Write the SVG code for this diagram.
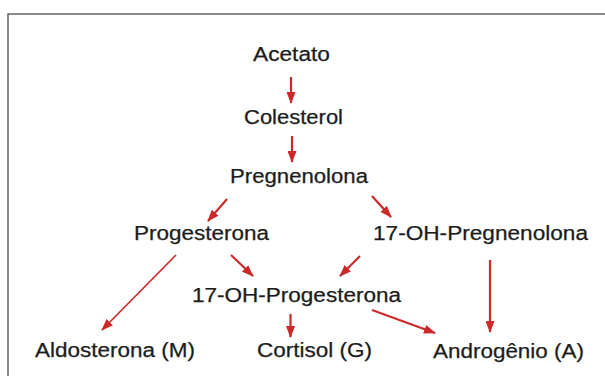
<svg xmlns="http://www.w3.org/2000/svg" width="605" height="376" viewBox="0 0 605 376">
<style>
.t{font-family:"Liberation Sans",Arial,sans-serif;font-size:20px;fill:#1c1c1c;stroke:#1c1c1c;stroke-width:0.25;}
.a{stroke:#cc2a2a;stroke-width:2.2;fill:none;marker-end:url(#h);}
.thin{stroke-width:1.7;}
.frame{stroke:#666;stroke-width:1.5;fill:none;}
</style>
<defs>
<marker id="h" viewBox="0 0 12 9" markerWidth="12" markerHeight="9" markerUnits="userSpaceOnUse" refX="11" refY="4.5" orient="auto">
<path d="M0,0 L12,4.5 L0,9 Z" fill="#cc2a2a"/>
</marker>
</defs>
<rect width="605" height="376" fill="#fff"/>
<path class="frame" d="M8,376 V14 H605"/>
<g id="acetato"><text class="t" x="253" y="61" textLength="77" lengthAdjust="spacingAndGlyphs">Acetato</text></g>
<g id="colesterol"><text class="t" x="244" y="124" textLength="99" lengthAdjust="spacingAndGlyphs">Colesterol</text></g>
<g id="pregnenolona"><text class="t" x="230" y="183" textLength="138" lengthAdjust="spacingAndGlyphs">Pregnenolona</text></g>
<g id="progesterona"><text class="t" x="134" y="240" textLength="135" lengthAdjust="spacingAndGlyphs">Progesterona</text></g>
<g id="oh-pregnenolona"><text class="t" x="373" y="240" textLength="215" lengthAdjust="spacingAndGlyphs">17-OH-Pregnenolona</text></g>
<g id="oh-progesterona"><text class="t" x="192" y="302" textLength="209" lengthAdjust="spacingAndGlyphs">17-OH-Progesterona</text></g>
<g id="aldosterona"><text class="t" x="35" y="357" textLength="160" lengthAdjust="spacingAndGlyphs">Aldosterona (M)</text></g>
<g id="cortisol"><text class="t" x="257" y="357" textLength="115" lengthAdjust="spacingAndGlyphs">Cortisol (G)</text></g>
<g id="androgenio"><text class="t" x="433" y="358" textLength="151" lengthAdjust="spacingAndGlyphs">Androgênio (A)</text></g>
<g id="connectors">
<line class="a" x1="291" y1="77" x2="291" y2="103"/>
<line class="a" x1="292" y1="136" x2="292" y2="162"/>
<line class="a" x1="227" y1="199" x2="208" y2="221"/>
<line class="a" x1="372" y1="196" x2="391" y2="217"/>
<line class="a thin" x1="176" y1="255" x2="102" y2="330"/>
<line class="a" x1="231" y1="255" x2="253" y2="276"/>
<line class="a" x1="360" y1="256" x2="340" y2="276"/>
<line class="a" x1="490" y1="260" x2="490" y2="332"/>
<line class="a" x1="290.5" y1="314" x2="290.5" y2="337"/>
<line class="a" x1="372" y1="310" x2="435" y2="333"/>
</g>
</svg>
